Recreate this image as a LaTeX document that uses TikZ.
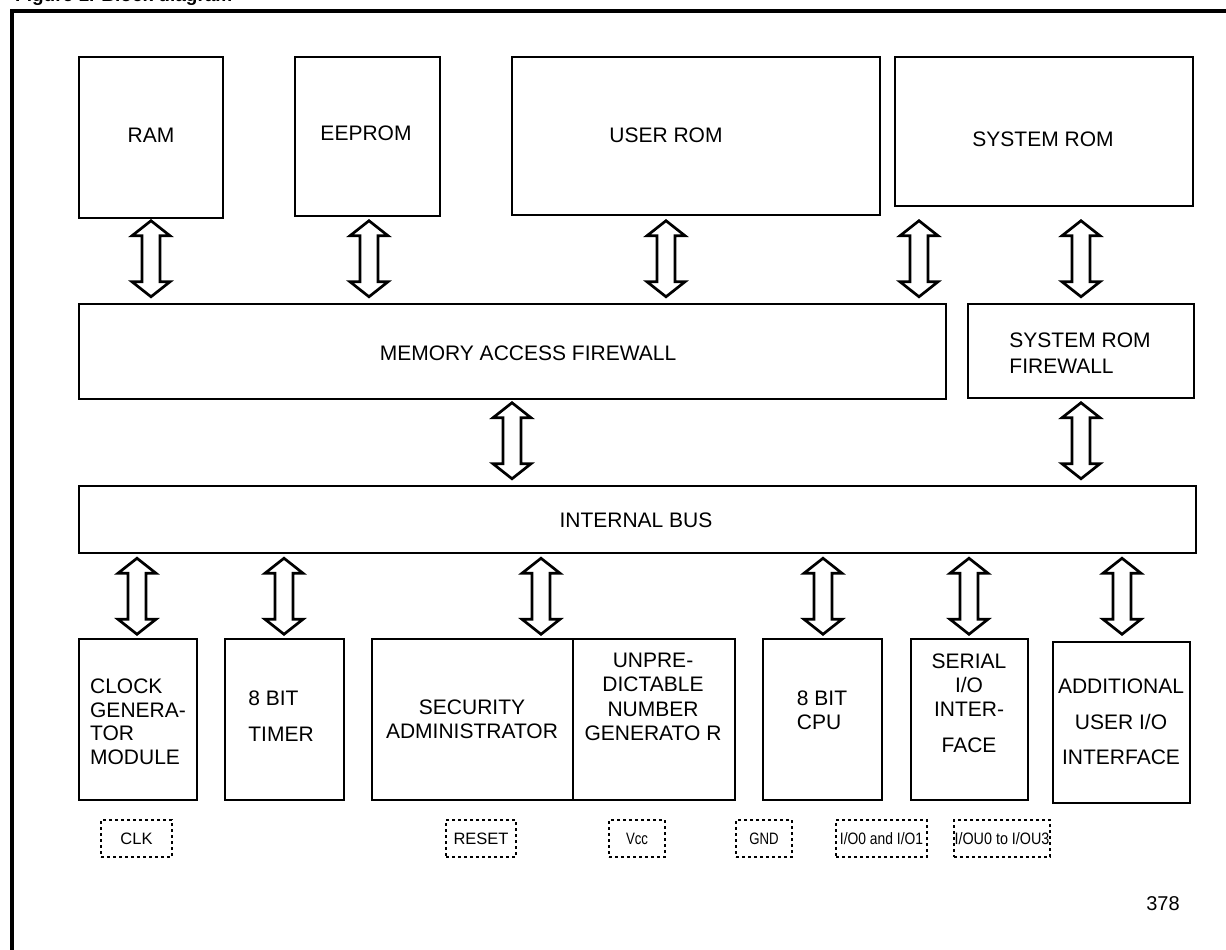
\documentclass[tikz,border=0pt]{standalone}
\usepackage{fontspec}
\setmainfont{Liberation Sans}
\usetikzlibrary{calc,fit}
\tikzset{
  blk/.style={draw, line width=2.5pt, inner sep=0pt, rectangle},
  txt/.style={font=\fontsize{21}{24}\selectfont, inner sep=0pt, align=center},
  pinbox/.style={draw, line width=2.6pt, dash pattern=on 2.6pt off 3.4pt, inner sep=0pt, minimum height=37pt, font=\fontsize{16.5}{19}\selectfont},
  fat/.style={draw, fill=white, line width=2.7pt, line join=miter},
}
\newcommand\fatshape{-- ++(19pt,15pt) -- ++(-10pt,0pt) -- ++(0pt,46pt) -- ++(10pt,0pt)
    -- ++(-19pt,15pt) -- ++(-19pt,-15pt) -- ++(10pt,0pt) -- ++(0pt,-46pt)
    -- ++(-10pt,0pt) -- cycle}
% fat double arrow at x=#1 between upper node #2 and lower node #3, placed against #3
\newcommand\busarrow[3]{%
  \draw[fat] let \p1=($(#1,0 |- #3.north)+(0,-6)$) in (\x1,\y1) \fatshape;}
% same, placed against the upper node #2
\newcommand\busarrowdown[3]{%
  \draw[fat] let \p1=($(#1,0 |- #2.south)+(0,80)$) in (\x1,\y1) \fatshape;}
\newcommand\narrow[2][0.8]{\scalebox{#1}[1]{#2}}
\begin{document}
\begin{tikzpicture}[x=1pt,y=-1pt]
\useasboundingbox (0,0) rectangle (1226,950);
\clip (0,0) rectangle (1226,950);
% frame and (cut off) title
\node[anchor=base west, inner sep=0pt, font=\bfseries\fontsize{19}{22}\selectfont] (title) at (15,2) {Figure 1. Block diagram};
\draw[line width=4pt] (12,960) -- (12,11) -- (1240,11);

% memories
\node[blk, fit={(79,57) (223,218)}] (ram) {};
\node[blk, fit={(295,57) (440,216)}] (eep) {};
\node[blk, fit={(512,57) (880,215)}] (user) {};
\node[blk, fit={(895,57) (1193,206)}] (sys) {};
% firewalls
\node[blk, fit={(79,304) (946,399)}] (maf) {};
\node[blk, fit={(968,304) (1194,398)}] (srf) {};
% bus
\node[blk, fit={(79,486) (1196,553)}] (bus) {};
% peripherals
\node[blk, fit={(79,639) (197,800)}] (clock) {};
\node[blk, fit={(225,639) (344,800)}] (timer) {};
\node[blk, fit={(372,639) (573,800)}] (sec) {};
\node[blk, fit={(573,639) (735,800)}] (unp) {};
\node[blk, fit={(763,639) (882,800)}] (cpu) {};
\node[blk, fit={(911,639) (1028,800)}] (serial) {};
\node[blk, fit={(1053,642) (1190,803)}] (add) {};

% texts
\node[txt] (tram) at (151,135) {RAM};
\node[txt] (teep) at (366,133) {EEPROM};
\node[txt] (tuser) at (666,135) {USER ROM};
\node[txt] (tsys) at (1043,139) {SYSTEM ROM};
\node[txt] (tmaf) at (528,353) {MEMORY ACCESS FIREWALL};
\node[txt, align=left, font=\fontsize{21}{26}\selectfont] (tsrf) at (1080,353) {SYSTEM ROM\\FIREWALL};
\node[txt] (tbus) at (636,520) {INTERNAL BUS};
\node[txt, align=left, font=\fontsize{21}{23.5}\selectfont] (tclock) at (138,722) {CLOCK\\GENERA-\\TOR\\MODULE};
\node[txt, align=left, font=\fontsize{21}{36}\selectfont] (ttimer) at (281,716) {8 BIT\\TIMER};
\node[txt] (tsec) at (472,719) {SECURITY\\ADMINISTRATOR};
\node[txt, font=\fontsize{21}{24.3}\selectfont] (tunp) at (653,697) {UNPRE-\\DICTABLE\\NUMBER\\GENERATO R};
\node[txt, align=left] (tcpu) at (822,710) {8 BIT\\CPU};
\node[txt] (tserial) at (969,703) {SERIAL\\I/O\\INTER-\\[12pt]FACE};
\node[txt, font=\fontsize{21}{35.5}\selectfont] (tadd) at (1121,722) {ADDITIONAL\\USER I/O\\INTERFACE};

% pins
\node[pinbox, minimum width=71pt] (clk) at (136.5,838.5) {CLK};
\node[pinbox, minimum width=70pt] (reset) at (481,838.5) {RESET};
\node[pinbox, minimum width=56pt] (vcc) at (637,838.5) {\narrow{Vcc}};
\node[pinbox, minimum width=56pt] (gnd) at (764,838.5) {\narrow{GND}};
\node[pinbox, minimum width=91pt] (io) at (881.5,838.5) {\narrow[0.84]{I/O0 and I/O1}};
\node[pinbox, minimum width=96pt] (iou) at (1002,838.5) {\narrow[0.87]{I/OU0 to I/OU3}};

\node[inner sep=0pt, font=\fontsize{20}{24}\selectfont] (num) at (1163,904) {378};

% arrows
\busarrow{151}{ram}{maf}
\busarrow{369}{eep}{maf}
\busarrow{666}{user}{maf}
\busarrow{919}{sys}{maf}
\busarrow{1081}{sys}{srf}
\busarrow{512}{maf}{bus}
\busarrow{1081}{srf}{bus}
\busarrowdown{137}{bus}{clock}
\busarrowdown{284}{bus}{timer}
\busarrowdown{541}{bus}{sec}
\busarrowdown{823}{bus}{cpu}
\busarrowdown{969}{bus}{serial}
\busarrowdown{1122}{bus}{add}
\end{tikzpicture}
\end{document}
